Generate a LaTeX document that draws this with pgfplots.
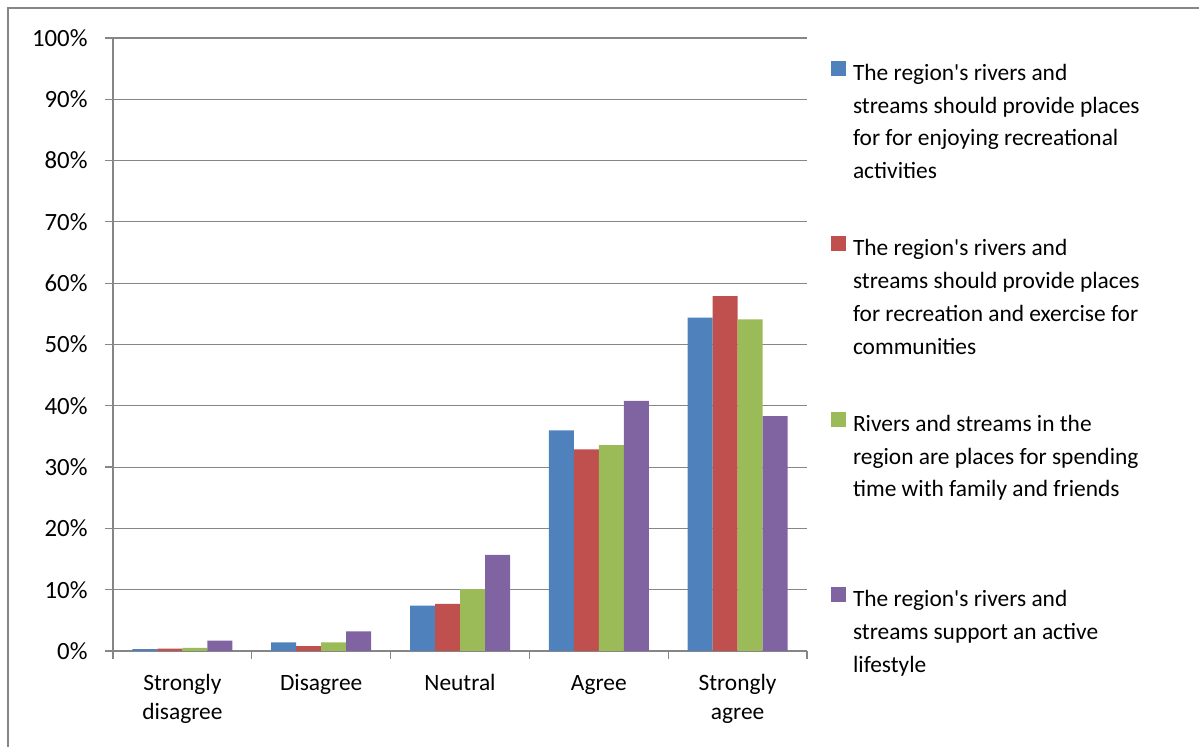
\documentclass[border=0pt]{standalone}
\usepackage{pgfplots}
\pgfplotsset{compat=1.18}
\usepackage{pgfplotstable}
\usepackage{fontspec}
\setmainfont{Carlito}
\definecolor{sA}{HTML}{4F81BD}
\definecolor{sB}{HTML}{C0504D}
\definecolor{sC}{HTML}{9BBB59}
\definecolor{sD}{HTML}{8064A2}
\definecolor{axgray}{HTML}{868686}
\newcommand{\lgd}[1]{\parbox[t]{340bp}{\raggedright\fontsize{23.4bp}{32.7bp}\selectfont #1}}
\newcommand{\q}{\textquotesingle}
\pgfplotstableread{
x A B C D
0 0.3 0.4 0.5 1.7
1 1.4 0.8 1.4 3.2
2 7.4 7.7 10.1 15.7
3 36.0 32.9 33.6 40.8
4 54.4 57.9 54.1 38.3
}\datatable
\pgfplotsset{sq/.style={legend image code/.code={\fill[##1,draw=none] (0bp,-3bp) rectangle (15bp,12bp);}}}
\begin{document}
\begin{tikzpicture}[x=1bp,y=1bp]
\useasboundingbox (0,0) rectangle (1199,747);
\draw[axgray, line width=1.5bp] (8,0) -- (8,739) -- (1199,739);
\begin{axis}[
  at={(113bp,96bp)}, anchor=south west, scale only axis,
  width=694bp, height=613bp,
  xmin=-0.5, xmax=4.5, ymin=0, ymax=100,
  ybar=0pt, bar width=25bp,
  axis x line*=bottom, axis y line*=left,
  axis line style={axgray, line width=1.2bp, -},
  tick style={axgray, line width=1.2bp},
  tick align=outside, major tick length=8bp,
  ymajorgrids, grid style={axgray, line width=1.1bp},
  ytick={0,10,...,100},
  yticklabels={0\%,10\%,20\%,30\%,40\%,50\%,60\%,70\%,80\%,90\%,100\%},
  yticklabel style={font=\fontsize{24.8bp}{28bp}\selectfont, xshift=-14bp},
  xtick={-0.5,0.5,1.5,2.5,3.5,4.5},
  xticklabels={},
  extra x ticks={0,1,2,3,4},
  extra x tick style={major tick length=0pt, grid=none},
  extra x tick labels={\strut Strongly\\disagree,\strut Disagree,\strut Neutral,\strut Agree,\strut Strongly\\agree},
  xticklabel style={font=\fontsize{23.4bp}{29bp}\selectfont, align=center, yshift=-16bp},
  legend style={at={(1.0346,1)}, anchor=north west, yshift=52.75bp, draw=none, fill=none,
    inner sep=0pt, outer sep=0pt, row sep=0pt,
    nodes={inner sep=0pt, outer sep=0pt, text height=95.25bp, text depth=80.25bp}, column sep=7bp},
  legend cell align=left,
]
\addplot[fill=sA, draw=none, sq] table[x=x,y=A]{\datatable};
\addlegendentry{\lgd{The region\q s rivers and\\streams should provide places\\for for enjoying recreational\\activities}}
\addplot[fill=sB, draw=none, sq] table[x=x,y=B]{\datatable};
\addlegendentry{\lgd{The region\q s rivers and\\streams should provide places\\for recreation and exercise for\\communities}}
\addplot[fill=sC, draw=none, sq] table[x=x,y=C]{\datatable};
\addlegendentry{\lgd{Rivers and streams in the\\region are places for spending\\time with family and friends}}
\addplot[fill=sD, draw=none, sq] table[x=x,y=D]{\datatable};
\addlegendentry{\lgd{The region\q s rivers and\\streams support an active\\lifestyle}}
\end{axis}
\end{tikzpicture}
\end{document}
